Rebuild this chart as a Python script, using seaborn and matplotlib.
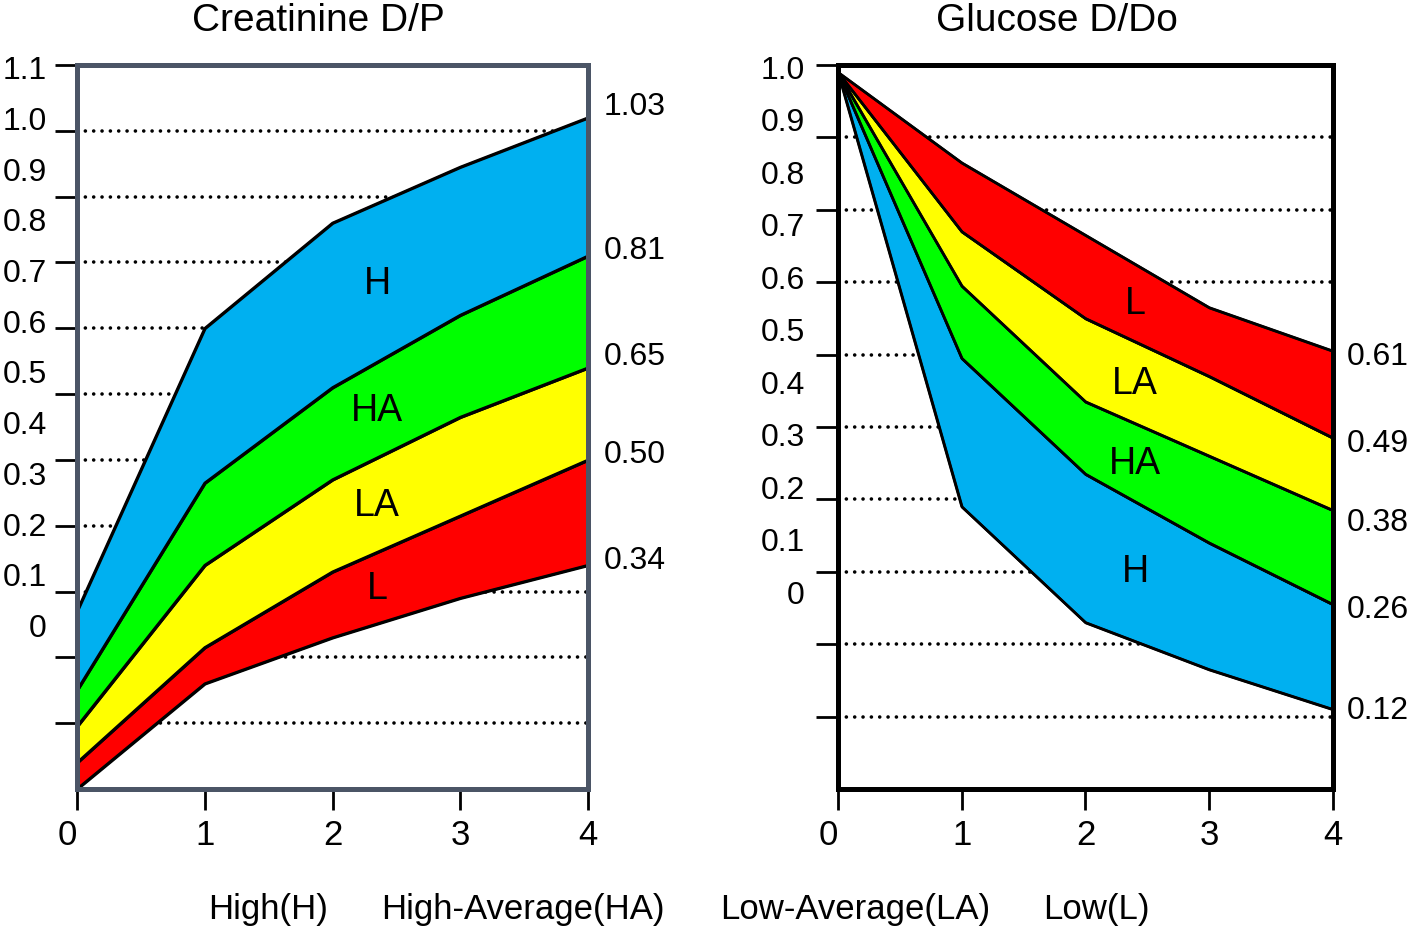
import numpy as np
import matplotlib
matplotlib.use("Agg")
import matplotlib.pyplot as plt
import seaborn as sns

# Dwell time (hours) shared by both panels
hours = [0, 1, 2, 3, 4]

# Creatinine D/P band boundaries (bottom of L up to top of H)
cr_bottom = [0.00, 0.16, 0.23, 0.29, 0.34]
cr_l_top = [0.04, 0.215, 0.33, 0.415, 0.50]
cr_la_top = [0.095, 0.34, 0.47, 0.565, 0.64]
cr_ha_top = [0.15, 0.465, 0.61, 0.72, 0.81]
cr_h_top = [0.27, 0.70, 0.86, 0.945, 1.02]
cr_end_labels = ["1.03", "0.81", "0.65", "0.50", "0.34"]

# Glucose D/Do band boundaries (bottom of H up to top of L)
gl_bottom = [0.99, 0.39, 0.23, 0.165, 0.11]
gl_h_top = [0.99, 0.595, 0.435, 0.34, 0.255]
gl_ha_top = [0.99, 0.695, 0.535, 0.46, 0.385]
gl_la_top = [0.99, 0.77, 0.65, 0.57, 0.485]
gl_l_top = [0.99, 0.865, 0.765, 0.665, 0.605]
gl_end_labels = ["0.61", "0.49", "0.38", "0.26", "0.12"]

colors = {"H": "#00B0F0", "HA": "#00FF00", "LA": "#FFFF00", "L": "#FF0000"}
legend_labels = ["High(H)", "High-Average(HA)", "Low-Average(LA)", "Low(L)"]

cr_ticks = np.round(np.arange(0, 1.11, 0.1), 1)
gl_ticks = np.round(np.arange(0, 1.01, 0.1), 1)

sns.set_style("ticks")
plt.rcParams["font.family"] = ["Liberation Sans", "DejaVu Sans"]
plt.rcParams["text.color"] = "black"
plt.rcParams["xtick.color"] = "black"
plt.rcParams["ytick.color"] = "black"
plt.rcParams["axes.labelcolor"] = "black"

fig = plt.figure(figsize=(14.18, 9.29), dpi=100)
ax1 = fig.add_axes([0.0543, 0.1496, 0.3604, 0.7793])
ax2 = fig.add_axes([0.591, 0.1496, 0.349, 0.7793])


def draw_bands(ax, bounds, names, label_x):
    # bounds run from lowest line to highest, one band between each pair
    for lo, hi, name in zip(bounds[:-1], bounds[1:], names):
        ax.fill_between(hours, lo, hi, facecolor=colors[name], edgecolor="black",
                        linewidth=1.9, zorder=1)
        mid = (np.interp(label_x, hours, lo) + np.interp(label_x, hours, hi)) / 2
        ax.text(label_x, mid, name, ha="center", va="center", fontsize=27, zorder=3)
    for b in bounds:
        sns.lineplot(x=hours, y=b, color="black", linewidth=1.9, ax=ax, zorder=2)


def style_axis(ax, ymax, ticks, frame_color, lab_fn, lab_pad):
    ax.set_xlim(0, 4)
    ax.set_ylim(0, ymax)
    ax.set_xticks(hours)
    ax.set_xticklabels([str(h) for h in hours])
    ax.get_xticklabels()[0].set_ha("right")
    ax.set_yticks(ticks[1:])
    ax.tick_params(axis="y", labelleft=False, length=16, width=2, direction="out")
    ax.tick_params(axis="x", length=15, width=2, pad=6, labelsize=25,
                   direction="out")
    ax.grid(False)
    # dotted guide lines behind the bands
    for t in ticks[1:]:
        ax.axhline(t, color="black", linewidth=2.6, linestyle=(0, (0.01, 2.3)),
                   dash_capstyle="round", zorder=0.5)
    ax.set_xlabel("")
    for sp in ax.spines.values():
        sp.set_visible(True)
        sp.set_color(frame_color)
        sp.set_linewidth(3.6)
        sp.set_zorder(4)
    # the printed scale labels sit on their own, slightly compressed scale
    a, b = lab_fn
    sec = ax.secondary_yaxis("left", functions=(lambda y: (y - a) / b,
                                                lambda v: a + b * v))
    sec.set_yticks(ticks)
    sec.set_yticklabels(["0" if t == 0 else f"{t:.1f}" for t in ticks])
    sec.tick_params(length=0, pad=lab_pad, labelsize=23)
    sec.spines["left"].set_visible(False)


draw_bands(ax1, [cr_bottom, cr_l_top, cr_la_top, cr_ha_top, cr_h_top],
           ["L", "LA", "HA", "H"], 2.35)
draw_bands(ax2, [gl_bottom, gl_h_top, gl_ha_top, gl_la_top, gl_l_top],
           ["H", "HA", "LA", "L"], 2.4)

style_axis(ax1, 1.1, cr_ticks, "#4B5566", (0.25, 0.7706), 21.6)
style_axis(ax2, 1.0, gl_ticks, "black", (0.2731, 0.7255), 23.8)

for lab in cr_end_labels:
    ax1.annotate(lab, (4, float(lab)), xytext=(11, 4), textcoords="offset points",
                 ha="left", va="center", fontsize=23, annotation_clip=False)
for lab in gl_end_labels:
    ax2.annotate(lab, (4, float(lab)), xytext=(10, -6), textcoords="offset points",
                 ha="left", va="center", fontsize=23, annotation_clip=False)

ax1.set_title("Creatinine D/P", fontsize=28, x=0.472, pad=25)
ax2.set_title("Glucose D/Do", fontsize=28, x=0.442, pad=25)

for lab, xf in zip(legend_labels, [0.189, 0.369, 0.603, 0.773]):
    fig.text(xf, 0.0205, lab, ha="center", va="center", fontsize=25)

fig.savefig("out.png", dpi=100)
